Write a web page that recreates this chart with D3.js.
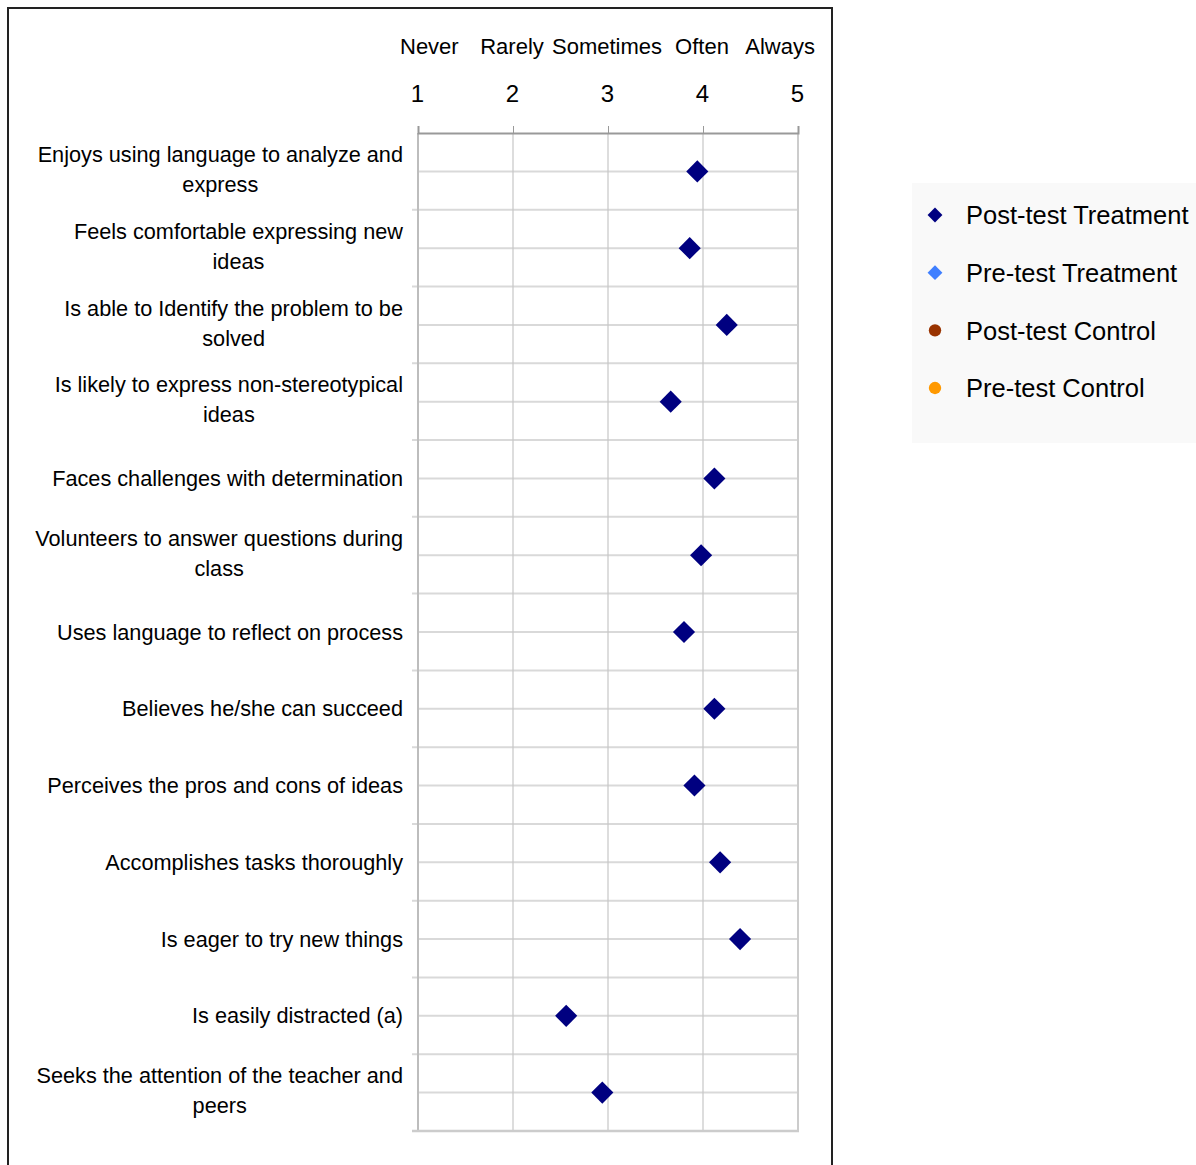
<!DOCTYPE html>
<html><head><meta charset="utf-8">
<script src="https://cdn.jsdelivr.net/npm/d3@7"></script>
<style>
html,body{margin:0;padding:0;background:#fff;}
svg{display:block;}
text{font-family:"Liberation Sans",Arial,sans-serif;fill:#000;}
</style></head>
<body>
<svg id="chart" width="1196" height="1165"></svg>
<script>
// ---- data ----
const categories = [
  "Enjoys using language to analyze and\nexpress",
  "Feels comfortable expressing new\nideas",
  "Is able to Identify the problem to be\nsolved",
  "Is likely to express non-stereotypical\nideas",
  "Faces challenges with determination",
  "Volunteers to answer questions during\nclass",
  "Uses language to reflect on process",
  "Believes he/she can succeed",
  "Perceives the pros and cons of ideas",
  "Accomplishes tasks thoroughly",
  "Is eager to try new things",
  "Is easily distracted (a)",
  "Seeks the attention of the teacher and\npeers"
];
const postTestTreatment = [3.94, 3.86, 4.25, 3.66, 4.12, 3.98, 3.80, 4.12, 3.91, 4.18, 4.39, 2.56, 2.94];
const scaleTicks = [1, 2, 3, 4, 5];
const scaleWords = ["Never", "Rarely", "Sometimes", "Often", "Always"];
const seriesNames = ["Post-test Treatment", "Pre-test Treatment", "Post-test Control", "Pre-test Control"];
const seriesColors = ["#000080", "#3f7fff", "#993300", "#ff9900"];
const seriesShapes = ["diamond", "diamond", "circle", "circle"];

// ---- layout ----
const svg = d3.select("#chart");
const plot = {left: 418, right: 798, top: 133, bottom: 1131};
const x = d3.scaleLinear().domain([1, 5]).range([plot.left, plot.right]);
const y = d3.scaleBand().domain(categories).range([plot.top, plot.bottom]).padding(0);

// frame
svg.append("rect").attr("x", 8).attr("y", 8).attr("width", 824).attr("height", 1200)
  .attr("fill", "none").attr("stroke", "#222").attr("stroke-width", 2);

// horizontal gridlines at category centres
const g = svg.append("g");
g.selectAll("line.hc").data(categories).join("line")
  .attr("x1", plot.left).attr("x2", plot.right)
  .attr("y1", d => y(d) + y.bandwidth() / 2).attr("y2", d => y(d) + y.bandwidth() / 2)
  .attr("stroke", "#d9d9d9").attr("stroke-width", 2);
// horizontal lines at category boundaries with ticks to the left
const bounds = categories.map(d => y(d)).concat([plot.bottom]);
g.selectAll("line.hb").data(bounds.slice(1, -1)).join("line")
  .attr("x1", plot.left - 6).attr("x2", plot.right)
  .attr("y1", d => d).attr("y2", d => d)
  .attr("stroke", "#d9d9d9").attr("stroke-width", 2);
// vertical gridlines
g.selectAll("line.v").data(scaleTicks.slice(1, -1)).join("line")
  .attr("x1", d => x(d)).attr("x2", d => x(d))
  .attr("y1", plot.top).attr("y2", plot.bottom)
  .attr("stroke", "#c6c6c6").attr("stroke-width", 1.2);
// plot borders (left, right, bottom)
g.append("line").attr("x1", plot.left).attr("x2", plot.left).attr("y1", plot.top).attr("y2", plot.bottom + 1)
  .attr("stroke", "#bdbdbd").attr("stroke-width", 2);
g.append("line").attr("x1", plot.right).attr("x2", plot.right).attr("y1", plot.top).attr("y2", plot.bottom + 1)
  .attr("stroke", "#cccccc").attr("stroke-width", 2);
g.append("line").attr("x1", plot.left - 6).attr("x2", plot.right + 1).attr("y1", plot.bottom).attr("y2", plot.bottom)
  .attr("stroke", "#cccccc").attr("stroke-width", 2.5);

// top axis
const axis = svg.append("g").attr("transform", `translate(0,${plot.top})`)
  .call(d3.axisTop(x).tickValues(scaleTicks).tickFormat(d3.format("d")).tickSize(7).tickPadding(24));
axis.select(".domain").attr("stroke", "#999").attr("stroke-width", 2);
axis.selectAll(".tick line").attr("stroke", "#999");
axis.selectAll(".tick text").attr("font-size", 24).attr("font-family", "Liberation Sans, Arial, sans-serif").attr("fill", "#000")
  .attr("dx", -1);

// scale words
svg.append("g").selectAll("text").data(scaleWords).join("text")
  .attr("x", (d, i) => i === 0 ? x(scaleTicks[i]) - 18 : i === scaleWords.length - 1 ? x(scaleTicks[i]) + 17 : x(scaleTicks[i]) - 1)
  .attr("y", 54)
  .attr("text-anchor", (d, i) => i === 0 ? "start" : i === scaleWords.length - 1 ? "end" : "middle")
  .attr("font-size", 22)
  .text(d => d);

// category labels: block right-aligned, lines centred inside block
const labelRight = 403, lineH = 30;
categories.forEach(cat => {
  const lines = cat.split("\n");
  const cy = y(cat) + y.bandwidth() / 2;
  const grp = svg.append("g");
  const texts = lines.map((ln, i) => grp.append("text")
    .attr("y", cy + (i - (lines.length - 1) / 2) * lineH - (lines.length > 1 ? 2 : 0))
    .attr("dy", "0.35em").attr("font-size", 21.7).attr("text-anchor", "middle").text(ln));
  const maxW = d3.max(texts, t => t.node().getComputedTextLength());
  texts.forEach(t => t.attr("x", labelRight - maxW / 2));
});

// data points
const diamond = d3.symbol().type(d3.symbolSquare).size(245);
svg.append("g").selectAll("path").data(postTestTreatment).join("path")
  .attr("d", diamond)
  .attr("transform", (d, i) => `translate(${x(d)},${y(categories[i]) + y.bandwidth() / 2}) rotate(45)`)
  .attr("fill", seriesColors[0]);

// legend
const lg = svg.append("g");
lg.append("rect").attr("x", 912).attr("y", 183).attr("width", 284).attr("height", 260).attr("fill", "#f9f9f9");
const legendY = d3.scalePoint().domain(seriesNames).range([215, 388]);
seriesNames.forEach((name, i) => {
  const yy = legendY(name);
  const shape = seriesShapes[i] === "diamond"
    ? d3.symbol().type(d3.symbolSquare).size(110)
    : d3.symbol().type(d3.symbolCircle).size(120);
  lg.append("path").attr("d", shape)
    .attr("transform", `translate(935,${yy})` + (seriesShapes[i] === "diamond" ? " rotate(45)" : ""))
    .attr("fill", seriesColors[i]);
  lg.append("text").attr("x", 966).attr("y", yy).attr("dy", "0.36em")
    .attr("font-size", 25.5).attr("fill", "#1a1a1a").text(name);
});
</script>
</body></html>
